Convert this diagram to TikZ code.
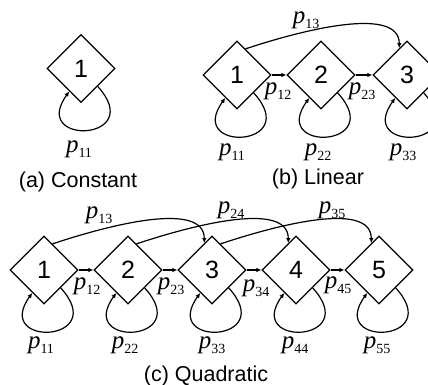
\documentclass[tikz,border=0pt]{standalone}
\usepackage{fontspec}
\setmainfont{Liberation Sans}
\newfontfamily\timesfont{Liberation Serif}
\usetikzlibrary{shapes.geometric,arrows.meta}
\newcommand{\trp}[1]{{\timesfont\itshape p}\raisebox{-5.5pt}{\timesfont\fontsize{14}{14}\selectfont #1}}
\tikzset{
  state/.style={draw,line width=1.2pt,diamond,aspect=1,minimum size=68pt,inner sep=0pt,font=\fontsize{25}{28}\selectfont},
  plab/.style={inner sep=0pt,font=\fontsize{25}{28}\selectfont},
  captext/.style={inner sep=0pt,font=\fontsize{21.5}{24}\selectfont},
  arr/.style={line width=1.2pt,-{Latex[length=5pt,width=4.5pt]}},
  selfloop/.style={arr,to path={.. controls +(50,-55) and +(-40,-55) .. (\tikztotarget)}}
}

\begin{document}
\begin{tikzpicture}[x=1pt,y=1pt]
\path[use as bounding box] (0,0) rectangle (428,385);
\node[state] (a1) at (81,316.5) {1};
\draw[selfloop] (a1.-47) to (a1.-117);
\node[plab] (a11) at (79,236) {\trp{11}};
\node[captext] (acap) at (78,203) {(a) Constant};
\node[state] (b1) at (237,310) {1};
\node[state] (b2) at (321,310) {2};
\node[state] (b3) at (407,310) {3};
\draw[arr] (b1.east) -- (b2.west);
\draw[arr] (b2.east) -- (b3.west);
\draw[arr] (b1.72) .. controls +(60,20) and +(0,42) .. (b3.106);
\draw[selfloop] (b1.-47) to (b1.-117);
\draw[selfloop] (b2.-47) to (b2.-117);
\draw[selfloop] (b3.-47) to (b3.-117);
\node[plab] (b13) at (306,365) {\trp{13}};
\node[plab] (b12) at (278,294) {\trp{12}};
\node[plab] (b23) at (362,294) {\trp{23}};
\node[plab] (b11) at (232,233) {\trp{11}};
\node[plab] (b22) at (318,233) {\trp{22}};
\node[plab] (b33) at (403,233) {\trp{33}};
\node[captext] (bcap) at (318,206) {(b) Linear};
\node[state] (c1) at (44,115) {1};
\node[state] (c2) at (128,115) {2};
\node[state] (c3) at (212,115) {3};
\node[state] (c4) at (296,115) {4};
\node[state] (c5) at (379,115) {5};
\foreach \i/\j in {c1/c2,c2/c3,c3/c4,c4/c5}
  \draw[arr] (\i.east) -- (\j.west);
\foreach \i/\j in {c1/c3,c2/c4,c3/c5}
  \draw[arr] (\i.72) .. controls +(60,20) and +(0,42) .. (\j.106);
\foreach \i in {c1,c2,c3,c4,c5}
  \draw[selfloop] (\i.-47) to (\i.-117);
\node[plab] (c13) at (99,170) {\trp{13}};
\node[plab] (c24) at (231,175) {\trp{24}};
\node[plab] (c35) at (332,175) {\trp{35}};
\node[plab] (c12) at (87,99) {\trp{12}};
\node[plab] (c23) at (171,99) {\trp{23}};
\node[plab] (c34) at (256,97) {\trp{34}};
\node[plab] (c45) at (338,100) {\trp{45}};
\node[plab] (c11) at (41,40) {\trp{11}};
\node[plab] (c22) at (125,40) {\trp{22}};
\node[plab] (c33) at (212,40) {\trp{33}};
\node[plab] (c44) at (295,40) {\trp{44}};
\node[plab] (c55) at (377,40) {\trp{55}};
\node[captext] (ccap) at (206,9) {(c) Quadratic};
\end{tikzpicture}
\end{document}
